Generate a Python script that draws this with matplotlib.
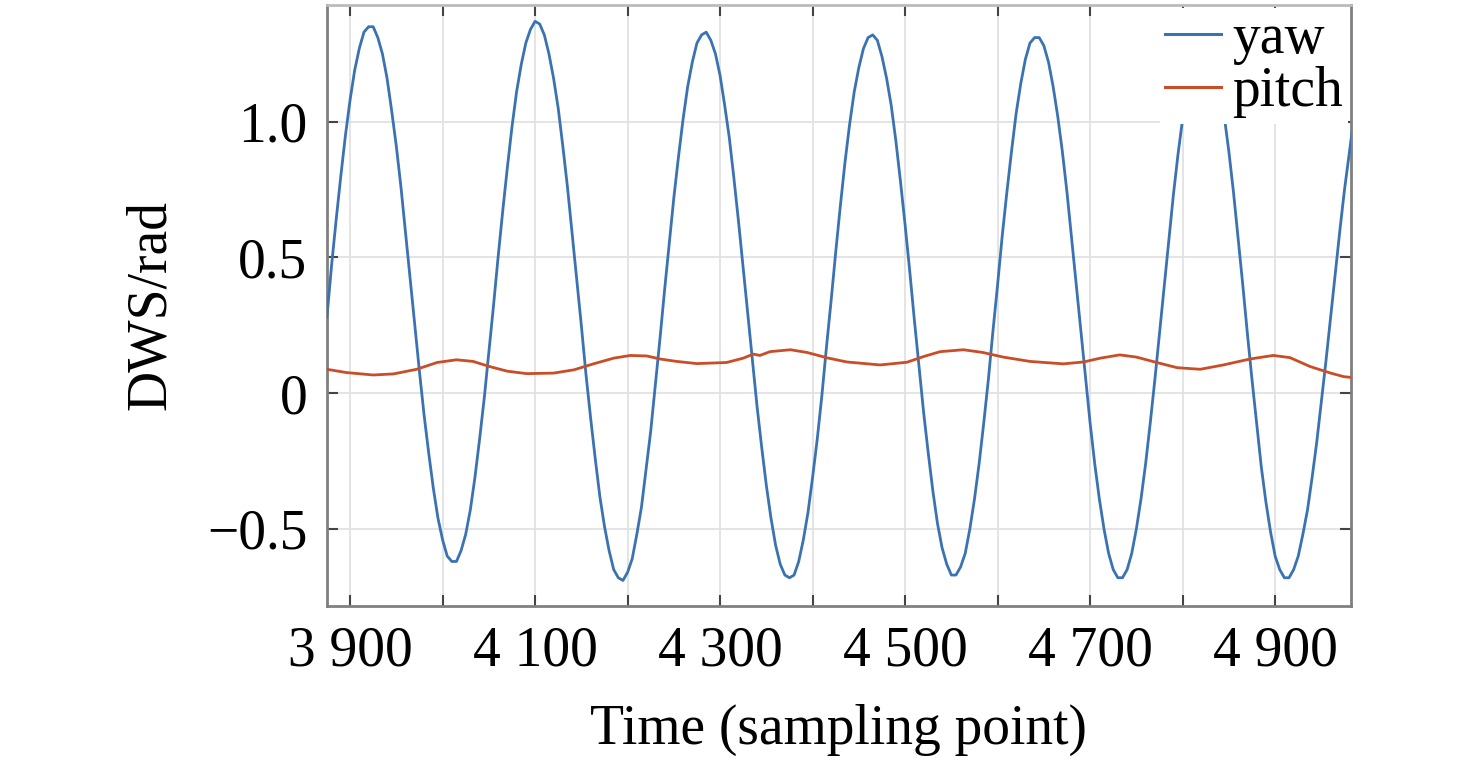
import numpy as np
import matplotlib
matplotlib.use("Agg")
import matplotlib.pyplot as plt

plt.rcParams['font.family'] = ['Liberation Serif', 'DejaVu Serif']

yaw_t = np.arange(3875, 4986, 5)
yaw = [0.28, 0.47, 0.64, 0.80, 0.95, 1.08, 1.19, 1.27, 1.33, 1.35,
       1.35, 1.31, 1.25, 1.16, 1.04, 0.91, 0.76, 0.59, 0.42, 0.25,
       0.08, -0.08, -0.22, -0.35, -0.46, -0.54, -0.60, -0.62, -0.62, -0.58,
       -0.52, -0.43, -0.31, -0.17, -0.02, 0.15, 0.32, 0.50, 0.67, 0.83,
       0.98, 1.11, 1.21, 1.29, 1.34, 1.37, 1.36, 1.32, 1.25, 1.16,
       1.05, 0.91, 0.76, 0.59, 0.42, 0.25, 0.07, -0.09, -0.24, -0.38,
       -0.49, -0.58, -0.65, -0.68, -0.69, -0.66, -0.61, -0.52, -0.42, -0.28,
       -0.14, 0.03, 0.20, 0.38, 0.55, 0.72, 0.87, 1.01, 1.13, 1.22,
       1.29, 1.32, 1.33, 1.30, 1.25, 1.17, 1.06, 0.94, 0.79, 0.63,
       0.46, 0.29, 0.12, -0.05, -0.20, -0.34, -0.46, -0.56, -0.63, -0.67,
       -0.68, -0.67, -0.62, -0.54, -0.44, -0.31, -0.17, -0.01, 0.17, 0.34,
       0.52, 0.69, 0.85, 0.99, 1.11, 1.20, 1.27, 1.31, 1.32, 1.30,
       1.24, 1.16, 1.06, 0.93, 0.78, 0.62, 0.45, 0.27, 0.10, -0.07,
       -0.22, -0.36, -0.48, -0.57, -0.63, -0.67, -0.67, -0.64, -0.59, -0.50,
       -0.39, -0.26, -0.11, 0.05, 0.23, 0.40, 0.58, 0.74, 0.89, 1.03,
       1.14, 1.23, 1.29, 1.31, 1.31, 1.28, 1.22, 1.13, 1.02, 0.89,
       0.74, 0.57, 0.40, 0.23, 0.06, -0.11, -0.26, -0.39, -0.50, -0.59,
       -0.65, -0.68, -0.68, -0.65, -0.59, -0.50, -0.39, -0.26, -0.11, 0.05,
       0.22, 0.39, 0.56, 0.73, 0.88, 1.01, 1.12, 1.21, 1.27, 1.30,
       1.31, 1.28, 1.22, 1.14, 1.02, 0.89, 0.74, 0.57, 0.40, 0.22,
       0.05, -0.11, -0.27, -0.40, -0.51, -0.60, -0.65, -0.68, -0.68, -0.65,
       -0.60, -0.52, -0.43, -0.31, -0.18, -0.03, 0.12, 0.28, 0.44, 0.60,
       0.75, 0.88, 1.01]

# pitch, read at irregular points
pitch_t = [3875, 3896, 3925, 3947, 3972, 3994, 4015, 4033, 4051, 4070,
           4091, 4120, 4142, 4163, 4185, 4203, 4221, 4235, 4253, 4275,
           4307, 4325, 4336, 4343, 4354, 4376, 4394, 4416, 4437, 4473,
           4502, 4520, 4538, 4563, 4584, 4606, 4635, 4671, 4693, 4711,
           4732, 4750, 4772, 4794, 4819, 4844, 4873, 4898, 4916, 4938,
           4960, 4974, 4985]
pitch = [0.088, 0.076, 0.067, 0.071, 0.088, 0.113, 0.123, 0.117, 0.098, 0.081,
         0.072, 0.074, 0.086, 0.108, 0.129, 0.139, 0.137, 0.126, 0.117, 0.109,
         0.113, 0.129, 0.144, 0.139, 0.153, 0.160, 0.150, 0.130, 0.115, 0.104,
         0.114, 0.135, 0.153, 0.160, 0.150, 0.133, 0.117, 0.108, 0.115, 0.129,
         0.141, 0.133, 0.113, 0.094, 0.088, 0.104, 0.126, 0.139, 0.131, 0.098,
         0.074, 0.061, 0.057]

x_ticks = np.arange(3900, 5000, 100)
x_labels = ['3 900', '', '4 100', '', '4 300', '', '4 500', '', '4 700', '', '4 900']
y_ticks = [-0.5, 0, 0.5, 1.0]
y_labels = ['\u22120.5', '0', '0.5', '1.0']

fig = plt.figure(figsize=(14.76, 7.6), dpi=100)
ax = fig.add_axes([0.2215, 0.203, 0.6938, 0.7904])

ax.plot(yaw_t, yaw, color='#3a72b2', lw=2.0, label='yaw', zorder=3)
ax.plot(pitch_t, pitch, color='#c94d27', lw=2.0, label='pitch', zorder=3)

ax.set_xlim(3875, 4982)
ax.set_ylim(-0.783, 1.43)
ax.set_xticks(x_ticks)
ax.set_xticklabels(x_labels)
ax.set_yticks(y_ticks)
ax.set_yticklabels(y_labels)

ax.grid(True, color='#e2e2e2', lw=1.3, zorder=0)
ax.set_axisbelow(True)
ax.tick_params(direction='in', length=8, width=1.5, color='#444444',
               top=True, right=True, labelsize=40, pad=14)
for s in ax.spines.values():
    s.set_color('#808080')
    s.set_linewidth(2)
ax.spines['top'].set_color('#bbbbbb')

ax.set_xlabel('Time (sampling point)', fontsize=40, labelpad=19)
ax.set_ylabel('DWS/rad', fontsize=40, labelpad=22)

leg = ax.legend(loc='upper right', fontsize=40, frameon=True, fancybox=False,
                framealpha=1, edgecolor='none', facecolor='white',
                borderpad=0.1, borderaxespad=0.05, handlelength=1.0,
                handletextpad=0.2, labelspacing=0.02)
leg.set_zorder(5)
for line in leg.get_lines():
    line.set_linewidth(2.2)

fig.savefig('out.png', dpi=100)
